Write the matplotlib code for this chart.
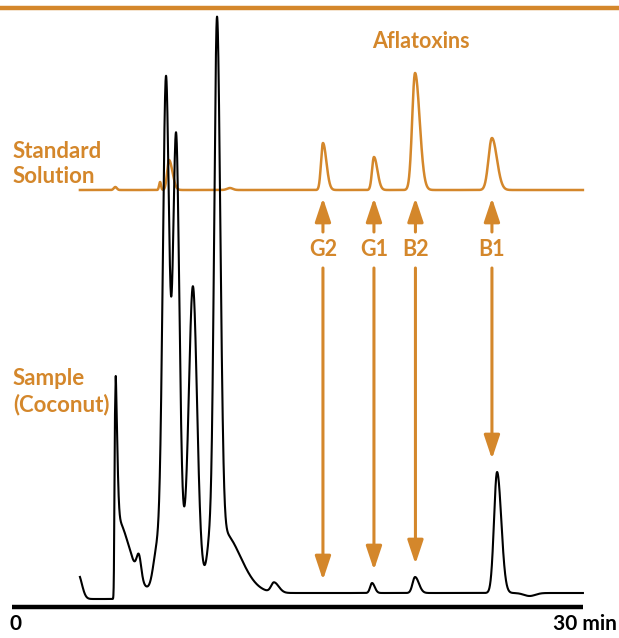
import numpy as np
import matplotlib.pyplot as plt

ORANGE = '#D4872B'
plt.rcParams['font.family'] = ['Lato', 'DejaVu Sans']

# Sample (coconut) chromatogram: peak table
# retention time (min), height, left / right width (min)
sample_rt = [3.47, 5.41, 5.46, 6.67, 7.62, 9.00, 8.09, 8.62, 9.51, 10.40, 10.77, 11.10, 13.77, 18.92, 21.18, 25.49, 27.2]
sample_height = [25, 158, 75, 22, 40, 45, 497, 420, 270, 40, 555, 60, 10, 10, 16, 121, -3]
sample_wl = [0.05, 0.03, 0.03, 0.12, 0.20, 0.60, 0.17, 0.17, 0.21, 0.15, 0.15, 0.20, 0.15, 0.10, 0.13, 0.16, 0.30]
sample_wr = [0.20, 0.10, 0.70, 0.12, 0.20, 0.80, 0.17, 0.17, 0.21, 0.15, 0.17, 0.90, 0.25, 0.14, 0.20, 0.22, 0.30]
sample_front = 5.36
sample_pre_front = -6

# Standard solution chromatogram
standard_rt = [5.43, 7.78, 8.25, 11.45, 16.34, 19.02, 21.18, 25.22]
standard_height = [3, 8, 30, 2, 47, 33, 117, 52]
standard_wl = [0.08, 0.05, 0.10, 0.15, 0.10, 0.10, 0.15, 0.18]
standard_wr = [0.08, 0.05, 0.18, 0.15, 0.18, 0.18, 0.24, 0.26]

# Aflatoxin assignments
aflatoxins = ['G2', 'G1', 'B2', 'B1']
aflatoxin_rt = [16.34, 19.02, 21.20, 25.22]

t_start, t_end = 3.57, 30.0
px_per_min = 19.03
sample_offset = 45
standard_offset = 448


def chromatogram(t, rt, height, wl, wr):
    y = np.zeros_like(t)
    for r, h, a, b in zip(rt, height, wl, wr):
        w = np.where(t < r, a, b)
        y += h * np.exp(-0.5 * ((t - r) / w) ** 2)
    return y


t = np.linspace(t_start, t_end, 6000)
sample = chromatogram(t, sample_rt, sample_height, sample_wl, sample_wr)
sample += np.where(t < sample_front, sample_pre_front, 0)
sample += sample_offset
standard = chromatogram(t, standard_rt, standard_height, standard_wl, standard_wr)
standard += standard_offset

fig = plt.figure(figsize=(6.19, 6.38), dpi=100)
ax = fig.add_axes([0, 0, 1, 1])
ax.set_xlim(-12 / px_per_min, 607 / px_per_min)
ax.set_ylim(0, 638)
ax.axis('off')

ax.plot(t, standard, color=ORANGE, lw=1.8, zorder=2)
ax.plot(t, sample, color='black', lw=1.5, zorder=3)

# frame lines
ax.axhline(630, color=ORANGE, lw=3.2)
ax.hlines(31, 0, 30, color='black', lw=3.2)
ax.text(0.2, 8, '0', fontsize=15, fontweight='bold', ha='center', va='baseline')
ax.text(31.8, 8, '30 min', fontsize=15, fontweight='bold', ha='right', va='baseline')

# labels
ax.text(21.5, 596, 'Aflatoxins', color=ORANGE, fontsize=15.5, fontweight='bold',
        ha='center', va='center')
ax.text(0.05, 474, 'Standard\nSolution', color=ORANGE, fontsize=16, fontweight='bold',
        ha='left', va='center', linespacing=1.25)
ax.text(0.05, 246, 'Sample\n(Coconut)', color=ORANGE, fontsize=16, fontweight='bold',
        ha='left', va='center', linespacing=1.25)

arrow = dict(arrowstyle='-|>,head_length=0.72,head_width=0.24', color=ORANGE,
             lw=2.2, shrinkA=0, shrinkB=0, mutation_scale=20)
for name, rt in zip(aflatoxins, aflatoxin_rt):
    label_y = 388
    near = (t > rt - 0.4) & (t < rt + 0.4)
    smp_level = sample[near].max()
    ax.text(rt, label_y, name, color=ORANGE, fontsize=15.5, fontweight='bold',
            ha='center', va='center')
    ax.annotate('', xy=(rt, standard_offset - 8), xytext=(rt, label_y + 18),
                arrowprops=arrow)
    ax.annotate('', xy=(rt, smp_level + 13), xytext=(rt, label_y - 18),
                arrowprops=arrow)

fig.savefig('out.png', dpi=100)
